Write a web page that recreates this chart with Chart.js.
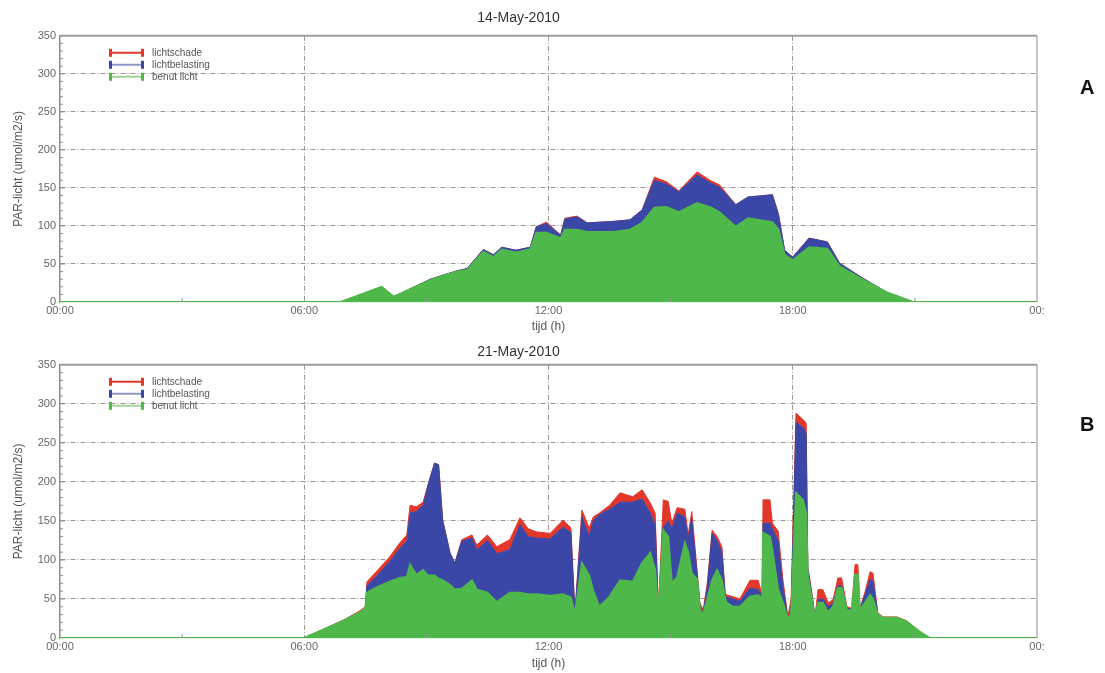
<!DOCTYPE html>
<html>
<head>
<meta charset="utf-8">
<script src="https://cdn.jsdelivr.net/npm/chart.js@4.4.1/dist/chart.umd.min.js"></script>
<style>
body{ margin:0; background:#fff; }
#wrap{ position:relative; width:1105px; height:673px; }
canvas{ position:absolute; left:0; }
.letter{ position:absolute; left:1080px; font:bold 20px "Liberation Sans", Arial, sans-serif; color:#111; }
</style>
</head>
<body>
<div id="wrap">
    <canvas id="grafiekA" width="1105" height="336" style="top:0"></canvas>
    <canvas id="grafiekB" width="1105" height="337" style="top:336px"></canvas>
    <div class="letter" style="top:76px">A</div>
    <div class="letter" style="top:413px">B</div>
</div>
<script>

// =====================================
// DATA 14-May-2010 (A)
// =====================================

const urenA =
[0, 6.9, 7.9, 8.2, 9.1, 9.75, 10.0, 10.4, 10.65, 10.85, 11.2, 11.55, 11.7, 11.95,
 12.3, 12.4, 12.7, 12.95, 13.6, 14.0, 14.3, 14.6, 14.9, 15.2, 15.65, 16.0, 16.2,
 16.6, 16.9, 17.5, 17.65, 17.8, 18.0, 18.4, 18.85, 19.15, 19.7, 20.3, 20.95, 24];

const benutA =
[0, 0, 20, 7, 29, 40, 42, 66, 59, 69, 65, 69, 91, 91,
 84, 95, 95, 92, 92, 95, 104, 124, 125, 118, 130, 124, 118,
 99, 110, 105, 95, 62, 55, 72, 70, 47, 30, 13, 0, 0];

const belastingA =
[0, 0, 0, 0, 1, 1, 2, 3, 3, 3, 3, 3, 8, 12,
 4, 14, 17, 12, 14, 13, 17, 36, 30, 27, 37, 32, 33,
 29, 28, 36, 20, 6, 4, 12, 9, 4, 2, 0, 0, 0];

const schadeA =
[0, 0, 0, 0, 0, 0, 0, 0, 0, 0, 0, 0, 0, 2,
 0, 1, 1, 0, 0, 0, 0, 4, 3, 1, 4, 3, 3,
 0, 0, 0, 0, 0, 0, 0, 0, 0, 0, 0, 0, 0];


// =====================================
// DATA 21-May-2010 (B)
// =====================================

const urenB =
[0, 6.0, 7.0, 7.37, 7.5, 7.54, 7.79, 8.1, 8.35, 8.52, 8.6, 8.75, 8.92, 9.04,
 9.2, 9.3, 9.4, 9.58, 9.7, 9.87, 10.12, 10.24, 10.5, 10.73, 11.05, 11.3, 11.5,
 11.7, 12.04, 12.36, 12.55, 12.65, 12.82, 13.0, 13.1, 13.25, 13.5, 13.76, 14.07,
 14.3, 14.5, 14.62, 14.7, 14.82, 14.94, 15.03, 15.16, 15.35, 15.43, 15.52, 15.65,
 15.72, 15.8, 15.9, 16.02, 16.14, 16.26, 16.34, 16.38, 16.53, 16.7, 16.95, 17.15,
 17.25, 17.27, 17.44, 17.5, 17.64, 17.76, 17.88, 17.96, 18.08, 18.25, 18.33, 18.37,
 18.47, 18.55, 18.62, 18.74, 18.87, 18.99, 19.11, 19.2, 19.33, 19.45, 19.53, 19.6,
 19.65, 19.77, 19.9, 19.97, 20.09, 20.22, 20.56, 20.8, 21.12, 21.37, 24];

const benutB =
[0, 0, 23, 33, 38, 58, 65, 72, 77, 78, 94, 81, 87, 80,
 80, 76, 74, 68, 62, 63, 74, 62, 58, 46, 58, 58, 56,
 56, 54, 56, 52, 30, 96, 80, 60, 40, 53, 74, 72,
 96, 109, 87, 30, 138, 130, 70, 78, 122, 110, 83, 75,
 36, 30, 50, 74, 87, 74, 50, 45, 40, 40, 53, 55,
 50, 135, 130, 113, 62, 45, 25, 30, 186, 177, 160, 78,
 50, 25, 45, 45, 33, 40, 64, 64, 36, 35, 81, 81,
 35, 45, 55, 50, 30, 26, 26, 21, 8, 0, 0];

const belastingB =
[0, 0, 0, 0, 0, 9, 15, 26, 38, 46, 66, 81, 83, 116,
 144, 146, 77, 41, 34, 61, 54, 51, 67, 62, 55, 87, 74,
 72, 73, 86, 83, 2, 59, 50, 90, 118, 112, 100, 102,
 82, 51, 58, 4, 4, 20, 70, 82, 33, 18, 70, 7,
 4, 3, 15, 60, 38, 36, 5, 7, 10, 7, 11, 7,
 3, 12, 17, 27, 63, 20, 1, 2, 90, 93, 102, 10,
 5, 2, 4, 5, 7, 5, 3, 3, 2, 2, 0, 0,
 1, 10, 20, 23, 1, 0, 0, 0, 0, 0, 0];

const schadeB =
[0, 0, 1, 2, 2, 5, 6, 6, 7, 8, 10, 6, 4, 0,
 0, 0, 0, 0, 0, 2, 4, 6, 7, 9, 13, 9, 10,
 8, 7, 9, 6, 0, 9, 11, 5, 2, 5, 12, 7,
 12, 13, 15, 2, 35, 25, 7, 7, 10, 4, 9, 5,
 5, 3, 5, 4, 5, 7, 3, 3, 3, 3, 10, 12,
 2, 30, 30, 7, 12, 9, 1, 18, 12, 10, 13, 3,
 3, 0, 13, 12, 5, 4, 10, 10, 2, 1, 13, 13,
 2, 3, 10, 10, 1, 1, 1, 1, 0, 0, 0];

const seriesNamen = ["lichtschade", "lichtbelasting", "benut licht"];


// =====================================
// KLEUREN
// =====================================

const groen = "#4fb84a";
const blauw = "#3b47a6";
const rood = "#e3372b";
const rasterKleur = "#a0948f";


// =====================================
// PLUGINS
// =====================================

const kaderPlugin = {

    id:"kader",

    afterDraw(chart){

        const {ctx, chartArea:a, scales} = chart;

        ctx.save();

        // bovenrand + rechterrand
        ctx.strokeStyle = "#9c9c9c";
        ctx.lineWidth = 2;
        ctx.beginPath();
        ctx.moveTo(a.left, a.top);
        ctx.lineTo(a.right, a.top);
        ctx.stroke();

        ctx.strokeStyle = "#b5b5b5";
        ctx.lineWidth = 1.5;
        ctx.beginPath();
        ctx.moveTo(a.right, a.top);
        ctx.lineTo(a.right, a.bottom);
        ctx.stroke();

        // kleine streepjes
        ctx.strokeStyle = "#8f8f8f";
        ctx.lineWidth = 1;

        for(let v = 10; v < 350; v += 10){
            const y = scales.y.getPixelForValue(v);
            const len = v % 50 === 0 ? 5 : 3;
            ctx.beginPath();
            ctx.moveTo(a.left, y);
            ctx.lineTo(a.left + len, y);
            ctx.stroke();
        }

        [3, 9, 15, 21].forEach(h=>{
            const x = scales.x.getPixelForValue(h);
            ctx.beginPath();
            ctx.moveTo(x, a.bottom);
            ctx.lineTo(x, a.bottom - 4);
            ctx.stroke();
        });

        ctx.restore();

    }

};

const legendaPlugin = {

    id:"legenda",

    afterDraw(chart){

        const {ctx, chartArea:a} = chart;

        const kleuren = [
            [rood, rood],
            [blauw, "#8e97c9"],
            [groen, "#a3d59a"]
        ];

        ctx.save();

        seriesNamen.forEach((naam,i)=>{

            const y = a.top + 17 + i*12;
            const x0 = a.left + 50;
            const x1 = a.left + 83;

            ctx.strokeStyle = kleuren[i][1];
            ctx.lineWidth = 2;
            ctx.beginPath();
            ctx.moveTo(x0, y);
            ctx.lineTo(x1, y);
            ctx.stroke();

            ctx.fillStyle = kleuren[i][0];
            ctx.fillRect(x0 - 1, y - 4, 3, 8);
            ctx.fillRect(x1 - 2, y - 4, 3, 8);

            ctx.fillStyle = "#555";
            ctx.font = "10px 'Liberation Sans', Arial, sans-serif";
            ctx.textBaseline = "middle";
            ctx.fillText(naam, x1 + 9, y);

        });

        ctx.restore();

    }

};


// =====================================
// GRAFIEK
// =====================================

function maakGrafiek(id, titel, uren, benut, belasting, schade, titelPadding, xHoogte){

    const punten = arr => arr.map((v,i)=>({x:uren[i], y:v}));

    const lijn = {
        pointRadius:0,
        borderWidth:1,
        tension:0
    };

    return new Chart(document.getElementById(id),{

        type:"line",

        data:{

            datasets:[

                {
                    ...lijn,
                    label:"benut licht",
                    data:punten(benut),
                    borderColor:groen,
                    backgroundColor:groen,
                    borderWidth:2,
                    fill:"origin"
                },

                {
                    ...lijn,
                    label:"lichtbelasting",
                    data:punten(belasting),
                    borderColor:blauw,
                    backgroundColor:blauw,
                    fill:"-1"
                },

                {
                    ...lijn,
                    label:"lichtschade",
                    data:punten(schade),
                    borderColor:rood,
                    backgroundColor:rood,
                    fill:"-1"
                }

            ]

        },

        options:{

            responsive:false,
            animation:false,

            layout:{
                padding:{left:0, right:68, top:0, bottom:0}
            },

            plugins:{

                legend:{ display:false },
                tooltip:{ enabled:false },

                title:{
                    display:true,
                    text:titel,
                    color:"#333",
                    font:{ family:"'Liberation Sans', Arial, sans-serif", size:14, weight:"normal" },
                    padding:titelPadding
                }

            },

            scales:{

                x:{
                    type:"linear",
                    min:0,
                    max:24,
                    afterFit:s=>{ s.height = xHoogte; },
                    ticks:{
                        stepSize:6,
                        maxRotation:0,
                        padding:2,
                        color:"#666",
                        font:{ family:"'Liberation Sans', Arial, sans-serif", size:11 },
                        callback:v => v === 24 ? "00:" : String(v).padStart(2,"0") + ":00"
                    },
                    grid:{
                        drawTicks:false,
                        color:c => (c.tick && (c.tick.value === 0 || c.tick.value === 24)) ? "rgba(0,0,0,0)" : rasterKleur
                    },
                    border:{ display:true, color:"#cfe3c8", width:1.5, dash:[5,2,1,2] },
                    title:{
                        display:true,
                        text:"tijd (h)",
                        color:"#555",
                        font:{ family:"'Liberation Sans', Arial, sans-serif", size:12 },
                        padding:{top:0, bottom:2}
                    }
                },

                y:{
                    stacked:true,
                    min:0,
                    max:350,
                    afterFit:s=>{ s.width = 60; },
                    ticks:{
                        stepSize:50,
                        padding:4,
                        color:"#666",
                        font:{ family:"'Liberation Sans', Arial, sans-serif", size:11 }
                    },
                    grid:{
                        drawTicks:false,
                        color:c => (c.tick && (c.tick.value === 0 || c.tick.value === 350)) ? "rgba(0,0,0,0)" : rasterKleur
                    },
                    border:{ display:true, color:"#8e8e8e", width:1.5, dash:[5,2,1,2] },
                    title:{
                        display:true,
                        text:"PAR-licht (umol/m2/s)",
                        color:"#555",
                        font:{ family:"'Liberation Sans', Arial, sans-serif", size:12 },
                        padding:{top:11, bottom:0}
                    }
                }

            }

        },

        plugins:[kaderPlugin, legendaPlugin]

    });

}

maakGrafiek("grafiekA", "14-May-2010", urenA, benutA, belastingA, schadeA, {top:10, bottom:9}, 34);

maakGrafiek("grafiekB", "21-May-2010", urenB, benutB, belastingB, schadeB, {top:8, bottom:4}, 35);

</script>
</body>
</html>
